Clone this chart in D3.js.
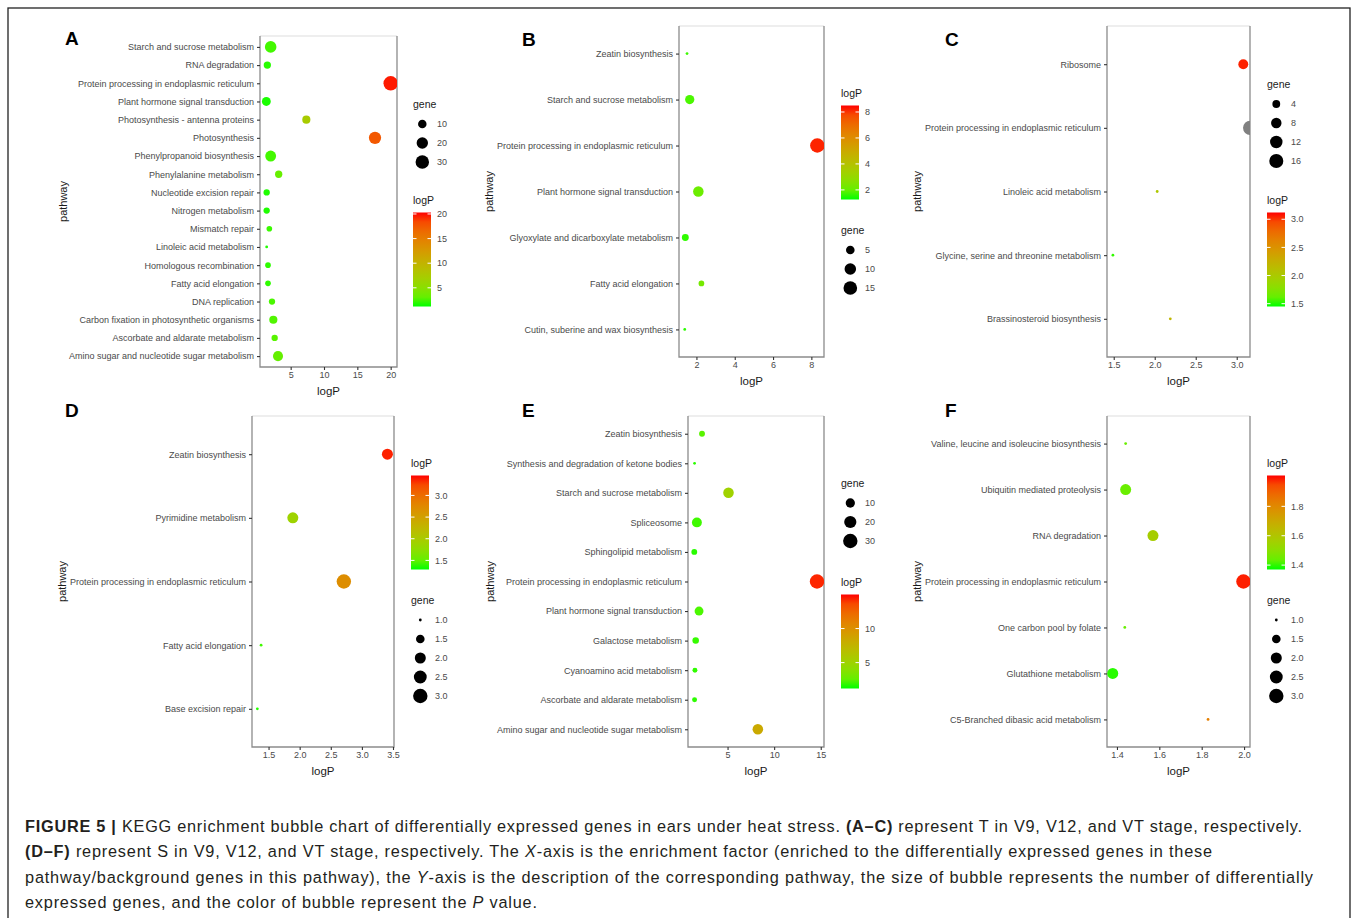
<!DOCTYPE html>
<html>
<head>
<meta charset="utf-8">
<script src="https://cdn.jsdelivr.net/npm/d3@7/dist/d3.min.js"></script>
<style>
  body { margin: 0; background: #fff; }
  svg { font-family: "Liberation Sans", Arial, sans-serif; }
</style>
</head>
<body>
<svg id="fig"></svg>
<script>
const width = 1357;
const height = 918;

// ---- panel A (T, V9)
const pathwaysA = [
  "Starch and sucrose metabolism", "RNA degradation", "Protein processing in endoplasmic reticulum",
  "Plant hormone signal transduction", "Photosynthesis - antenna proteins", "Photosynthesis",
  "Phenylpropanoid biosynthesis", "Phenylalanine metabolism", "Nucleotide excision repair",
  "Nitrogen metabolism", "Mismatch repair", "Linoleic acid metabolism", "Homologous recombination",
  "Fatty acid elongation", "DNA replication", "Carbon fixation in photosynthetic organisms",
  "Ascorbate and aldarate metabolism", "Amino sugar and nucleotide sugar metabolism"
];
const logpA = [2.0, 1.5, 20.0, 1.35, 7.35, 17.65, 2.0, 3.2, 1.4, 1.4, 1.8, 1.4, 1.6, 1.6, 2.2, 2.4, 2.6, 3.1];
const geneA = [21, 7, 35, 11, 9, 24, 18, 7, 5, 5, 4, 2, 4, 4, 5, 9, 5, 15];
const xTicksA = [5, 10, 15, 20];
const colorLimitsA = [1.2, 20.3];
const colorTicksA = [5, 10, 15, 20];
const geneBreaksA = [10, 20, 30];

// ---- panel B (T, V12)
const pathwaysB = [
  "Zeatin biosynthesis", "Starch and sucrose metabolism", "Protein processing in endoplasmic reticulum",
  "Plant hormone signal transduction", "Glyoxylate and dicarboxylate metabolism",
  "Fatty acid elongation", "Cutin, suberine and wax biosynthesis"
];
const logpB = [1.51, 1.65, 8.31, 2.1, 1.42, 2.26, 1.39];
const geneB = [1, 6, 17, 8, 3, 2, 1];
const xTicksB = [2, 4, 6, 8];
const colorLimitsB = [1.26, 8.5];
const colorTicksB = [2, 4, 6, 8];
const geneBreaksB = [5, 10, 15];

// ---- panel C (T, VT)
const pathwaysC = [
  "Ribosome", "Protein processing in endoplasmic reticulum", "Linoleic acid metabolism",
  "Glycine, serine and threonine metabolism", "Brassinosteroid biosynthesis"
];
const logpC = [3.08, 3.165, 2.03, 1.49, 2.19];
const geneC = [7, 17, 1, 1, 1];
const xTicksC = [1.5, 2.0, 2.5, 3.0];
const colorLimitsC = [1.45, 3.12];
const colorTicksC = [1.5, 2.0, 2.5, 3.0];
const geneBreaksC = [4, 8, 12, 16];

// ---- panel D (S, V9)
const pathwaysD = [
  "Zeatin biosynthesis", "Pyrimidine metabolism", "Protein processing in endoplasmic reticulum",
  "Fatty acid elongation", "Base excision repair"
];
const logpD = [3.41, 1.89, 2.71, 1.38, 1.32];
const geneD = [2, 2, 3, 1, 1];
const xTicksD = [1.5, 2.0, 2.5, 3.0, 3.5];
const colorLimitsD = [1.29, 3.46];
const colorTicksD = [1.5, 2.0, 2.5, 3.0];
const geneBreaksD = [1.0, 1.5, 2.0, 2.5, 3.0];

// ---- panel E (S, V12)
const pathwaysE = [
  "Zeatin biosynthesis", "Synthesis and degradation of ketone bodies", "Starch and sucrose metabolism",
  "Spliceosome", "Sphingolipid metabolism", "Protein processing in endoplasmic reticulum",
  "Plant hormone signal transduction", "Galactose metabolism", "Cyanoamino acid metabolism",
  "Ascorbate and aldarate metabolism", "Amino sugar and nucleotide sugar metabolism"
];
const logpE = [2.26, 1.46, 5.1, 1.71, 1.43, 14.6, 1.94, 1.58, 1.5, 1.46, 8.25];
const geneE = [3, 1, 14, 12, 3, 30, 9, 4, 2, 2, 14];
const xTicksE = [5, 10, 15];
const colorLimitsE = [1.2, 15.0];
const colorTicksE = [5, 10];
const geneBreaksE = [10, 20, 30];

// ---- panel F (S, VT)
const pathwaysF = [
  "Valine, leucine and isoleucine biosynthesis", "Ubiquitin mediated proteolysis", "RNA degradation",
  "Protein processing in endoplasmic reticulum", "One carbon pool by folate",
  "Glutathione metabolism", "C5-Branched dibasic acid metabolism"
];
const logpF = [1.441, 1.441, 1.57, 1.997, 1.437, 1.38, 1.83];
const geneF = [1, 2, 2, 3, 1, 2, 1];
const xTicksF = [1.4, 1.6, 1.8, 2.0];
const colorLimitsF = [1.37, 2.01];
const colorTicksF = [1.4, 1.6, 1.8];
const geneBreaksF = [1.0, 1.5, 2.0, 2.5, 3.0];

// layout of each panel (plot box, legend column, axis limits)
const panels = [
  { tag: "A", pathways: pathwaysA, logp: logpA, gene: geneA, xDomain: [0.4, 20.95], xTicks: xTicksA, xFmt: "d",
    colorLimits: colorLimitsA, colorTicks: colorTicksA, cFmt: "d", geneBreaks: geneBreaksA, gFmt: "d",
    box: [260, 36, 397, 367], tagPos: [65, 45], ylabX: 63, legX: 413, geneY: 104, logpY: 200 },
  { tag: "B", pathways: pathwaysB, logp: logpB, gene: geneB, xDomain: [1.09, 8.66], xTicks: xTicksB, xFmt: "d",
    colorLimits: colorLimitsB, colorTicks: colorTicksB, cFmt: "d", geneBreaks: geneBreaksB, gFmt: "d",
    box: [679, 26, 824, 357], tagPos: [522, 46], ylabX: 489, legX: 841, geneY: 230, logpY: 93 },
  { tag: "C", pathways: pathwaysC, logp: logpC, gene: geneC, xDomain: [1.418, 3.162], xTicks: xTicksC, xFmt: ".1f",
    colorLimits: colorLimitsC, colorTicks: colorTicksC, cFmt: ".1f", geneBreaks: geneBreaksC, gFmt: "d",
    box: [1107, 26, 1250, 357], tagPos: [945, 46], ylabX: 917, legX: 1267, geneY: 84, logpY: 200 },
  { tag: "D", pathways: pathwaysD, logp: logpD, gene: geneD, xDomain: [1.234, 3.516], xTicks: xTicksD, xFmt: ".1f",
    colorLimits: colorLimitsD, colorTicks: colorTicksD, cFmt: ".1f", geneBreaks: geneBreaksD, gFmt: ".1f",
    box: [252, 416, 394, 747], tagPos: [65, 417], ylabX: 62, legX: 411, geneY: 600, logpY: 463 },
  { tag: "E", pathways: pathwaysE, logp: logpE, gene: geneE, xDomain: [0.755, 15.35], xTicks: xTicksE, xFmt: "d",
    colorLimits: colorLimitsE, colorTicks: colorTicksE, cFmt: "d", geneBreaks: geneBreaksE, gFmt: "d",
    box: [688, 416, 824, 747], tagPos: [522, 417], ylabX: 490, legX: 841, geneY: 483, logpY: 582 },
  { tag: "F", pathways: pathwaysF, logp: logpF, gene: geneF, xDomain: [1.353, 2.028], xTicks: xTicksF, xFmt: ".1f",
    colorLimits: colorLimitsF, colorTicks: colorTicksF, cFmt: ".1f", geneBreaks: geneBreaksF, gFmt: ".1f",
    box: [1107, 416, 1250, 747], tagPos: [945, 417], ylabX: 917, legX: 1267, geneY: 600, logpY: 463 }
];

const svg = d3.select("#fig").attr("width", width).attr("height", height);
const defs = svg.append("defs");

svg.append("rect").attr("width", width).attr("height", height).attr("fill", "#fff");

// outer frame of the figure
svg.append("rect")
  .attr("x", 8).attr("y", 8).attr("width", 1342).attr("height", 930)
  .attr("fill", "none").attr("stroke", "#222").attr("stroke-width", 1.3);

const labelColor = "#4a4a4a";
const rMin = 1.4, rMax = 7.2;

panels.forEach((p) => {
  const [x0, y0, x1, y1] = p.box;
  const g = svg.append("g");

  const x = d3.scaleLinear().domain(p.xDomain).range([x0, x1]);
  const y = d3.scalePoint().domain(p.pathways).range([y0, y1]).padding(0.6);
  const color = d3.scaleLinear().domain(p.colorLimits).range(["#00ff00", "#ff0000"]).interpolate(d3.interpolateLab);
  const fill = (v) => (v < p.colorLimits[0] || v > p.colorLimits[1]) ? "#808080" : color(v);
  const gExt = d3.extent(p.gene);
  const sz = d3.scaleLinear().domain([0, 1]).range([rMin, rMax]);
  const radius = (n) => sz(Math.sqrt((n - gExt[0]) / (gExt[1] - gExt[0])));

  // panel frame
  g.append("line").attr("x1", x0).attr("x2", x1).attr("y1", y0).attr("y2", y0)
    .attr("stroke", "#dedede").attr("stroke-width", 1.2);
  g.append("path")
    .attr("d", `M${x0},${y0}V${y1}H${x1}V${y0}`)
    .attr("fill", "none").attr("stroke", "#8c8c8c").attr("stroke-width", 1.3);

  // x axis
  const xa = g.append("g")
    .attr("transform", `translate(0,${y1})`)
    .call(d3.axisBottom(x).tickValues(p.xTicks).tickFormat(d3.format(p.xFmt)).tickSize(3).tickPadding(2));
  xa.select(".domain").remove();
  xa.selectAll(".tick line").attr("stroke", "#333").attr("stroke-width", 1.1);
  xa.selectAll(".tick text").attr("fill", labelColor).style("font-size", "9px").attr("font-family", null);

  // y axis
  const ya = g.append("g")
    .attr("transform", `translate(${x0},0)`)
    .call(d3.axisLeft(y).tickSize(3).tickPadding(3));
  ya.select(".domain").remove();
  ya.selectAll(".tick line").attr("stroke", "#333").attr("stroke-width", 1.1);
  ya.selectAll(".tick text").attr("fill", labelColor).style("font-size", "9px").attr("font-family", null);

  // axis titles
  g.append("text")
    .attr("x", (x0 + x1) / 2).attr("y", y1 + 28)
    .attr("text-anchor", "middle").attr("font-size", "11.5px").attr("fill", "#1a1a1a")
    .text("logP");
  g.append("text")
    .attr("transform", `translate(${p.ylabX + 4},${(y0 + y1) / 2}) rotate(-90)`)
    .attr("text-anchor", "middle").attr("font-size", "11px").attr("fill", "#1a1a1a")
    .text("pathway");

  // bubbles
  const clipId = "clip" + p.tag;
  defs.append("clipPath").attr("id", clipId)
    .append("rect").attr("x", x0).attr("y", y0).attr("width", x1 - x0).attr("height", y1 - y0);
  g.append("g").attr("clip-path", `url(#${clipId})`)
    .selectAll("circle")
    .data(p.pathways.map((d, i) => ({ name: d, v: p.logp[i], n: p.gene[i] })))
    .join("circle")
    .attr("cx", (d) => x(d.v))
    .attr("cy", (d) => y(d.name))
    .attr("r", (d) => radius(d.n))
    .attr("fill", (d) => fill(d.v));

  // panel tag
  svg.append("text")
    .attr("x", p.tagPos[0]).attr("y", p.tagPos[1])
    .attr("font-size", "19px").attr("font-weight", "bold").attr("fill", "#000")
    .text(p.tag);

  // legend: gene sizes
  const lx = p.legX;
  g.append("text").attr("x", lx).attr("y", p.geneY + 4)
    .attr("font-size", "10.5px").attr("fill", "#1a1a1a").text("gene");
  const keys = g.append("g").selectAll("g").data(p.geneBreaks).join("g")
    .attr("transform", (d, i) => `translate(${lx},${p.geneY + 20 + i * 19})`);
  keys.append("circle").attr("cx", 9.3).attr("r", (d) => radius(d)).attr("fill", "#000");
  keys.append("text").attr("x", 24).attr("y", 3.2)
    .attr("font-size", "9px").attr("fill", labelColor)
    .text((d) => d3.format(p.gFmt)(d));

  // legend: logP colour bar
  g.append("text").attr("x", lx).attr("y", p.logpY + 4)
    .attr("font-size", "10.5px").attr("fill", "#1a1a1a").text("logP");
  const barTop = p.logpY + 12.5, barH = 94, barW = 18;
  const gradId = "grad" + p.tag;
  const grad = defs.append("linearGradient").attr("id", gradId)
    .attr("x1", 0).attr("y1", 1).attr("x2", 0).attr("y2", 0);
  d3.range(0, 1.0001, 0.1).forEach((t) => {
    grad.append("stop").attr("offset", t)
      .attr("stop-color", color(p.colorLimits[0] + t * (p.colorLimits[1] - p.colorLimits[0])));
  });
  g.append("rect").attr("x", lx).attr("y", barTop).attr("width", barW).attr("height", barH)
    .attr("fill", `url(#${gradId})`);
  const cb = d3.scaleLinear().domain(p.colorLimits).range([barTop + barH, barTop]);
  p.colorTicks.forEach((t) => {
    const ty = cb(t);
    g.append("line").attr("x1", lx).attr("x2", lx + 3.5).attr("y1", ty).attr("y2", ty)
      .attr("stroke", "#fff").attr("stroke-width", 1);
    g.append("line").attr("x1", lx + barW - 3.5).attr("x2", lx + barW).attr("y1", ty).attr("y2", ty)
      .attr("stroke", "#fff").attr("stroke-width", 1);
    g.append("text").attr("x", lx + 24).attr("y", ty + 3.2)
      .attr("font-size", "9px").attr("fill", labelColor)
      .text(d3.format(p.cFmt)(t));
  });
});

// caption (line widths follow the printed caption)
const captionLines = [
  [["b", "FIGURE 5 | "], ["n", "KEGG enrichment bubble chart of differentially expressed genes in ears under heat stress. "],
   ["b", "(A–C)"], ["n", " represent T in V9, V12, and VT stage, respectively."]],
  [["b", "(D–F)"], ["n", " represent S in V9, V12, and VT stage, respectively. The "], ["i", "X"],
   ["n", "-axis is the enrichment factor (enriched to the differentially expressed genes in these"]],
  [["n", "pathway/background genes in this pathway), the "], ["i", "Y"],
   ["n", "-axis is the description of the corresponding pathway, the size of bubble represents the number of differentially"]],
  [["n", "expressed genes, and the color of bubble represent the "], ["i", "P"], ["n", " value."]]
];
const captionWidths = [1277, 1187, 1288, 512];
captionLines.forEach((line, li) => {
  const t = svg.append("text")
    .attr("x", 25).attr("y", 832 + li * 25.3)
    .attr("font-size", "16.3px").attr("fill", "#231f20")
    .attr("textLength", captionWidths[li]).attr("lengthAdjust", "spacing");
  line.forEach(([style, s]) => {
    t.append("tspan")
      .attr("font-weight", style === "b" ? "bold" : null)
      .attr("font-style", style === "i" ? "italic" : null)
      .text(s);
  });
});
</script>
</body>
</html>
